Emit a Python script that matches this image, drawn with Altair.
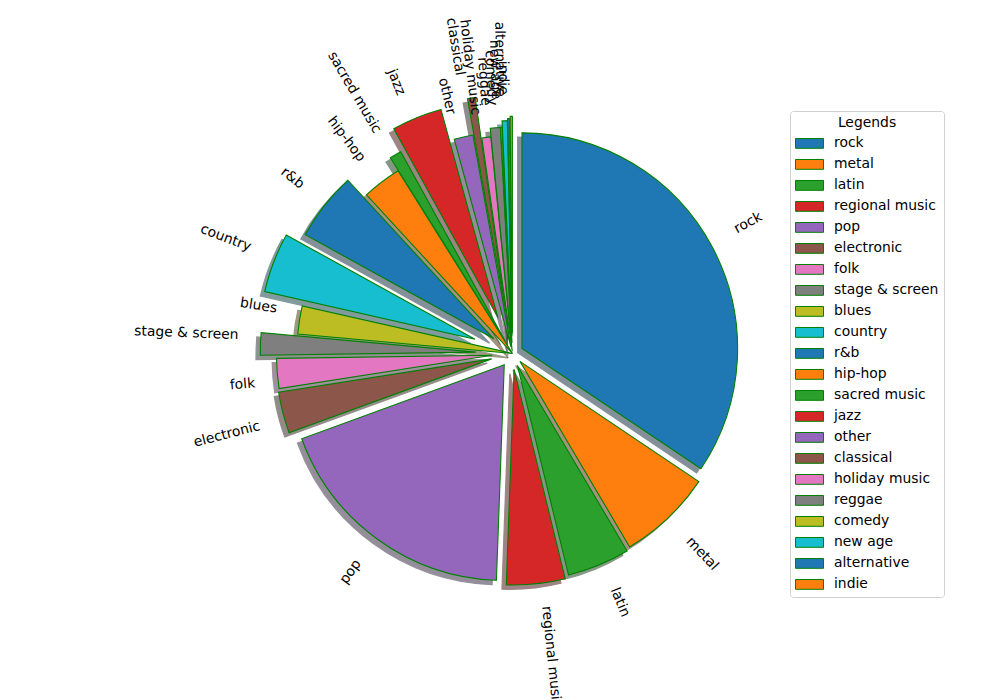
import math
import altair as alt
import pandas as pd

# ---- data ----
genres = ["rock", "metal", "latin", "regional music", "pop", "electronic", "folk",
          "stage & screen", "blues", "country", "r&b", "hip-hop", "sacred music",
          "jazz", "other", "classical", "holiday music", "reggae", "comedy",
          "new age", "alternative", "indie"]
shares = [34.5, 7.1, 4.7, 4.4, 18.9, 3.1, 2.25, 1.67, 2.11, 4.5, 5.14, 2.94, 0.89,
          3.78, 1.42, 0.58, 0.67, 0.75, 0.11, 0.39, 0.17, 0.17]

# ---- style ----
explode = [0.05, 0.05, 0.06, 0.074, 0.065, 0.1, 0.095, 0.17, 0.0, 0.186, 0.11, 0.0,
           0.07, 0.18, 0.03, 0.2, 0.01, 0.05, 0.05, 0.08, 0.09, 0.1]
tab10 = ["#1f77b4", "#ff7f0e", "#2ca02c", "#d62728", "#9467bd",
         "#8c564b", "#e377c2", "#7f7f7f", "#bcbd22", "#17becf"]
colors = [tab10[i % 10] for i in range(len(genres))]


def darken(h, f=0.3):
    h = h.lstrip("#")
    r, g, b = (int(h[i:i + 2], 16) for i in (0, 2, 4))
    return "#%02x%02x%02x" % (int(r * f), int(g * f), int(b * f))


shadow_colors = [darken(c) for c in colors]
shadow_keys = ["s_" + g for g in genres]

CX, CY, R = 512.5, 353.5, 215.6
SH = 0.02 * R        # shadow offset
H2 = 8.0             # half text-box height
FONT = "DejaVu Sans"
FS = 13.9

df = pd.DataFrame({"genre": genres, "share": shares, "explode": explode,
                   "idx": list(range(len(genres)))})

base = alt.Chart(df).transform_window(
    cum="sum(share)", sort=[alt.SortField("idx")], frame=[None, 0]
).transform_joinaggregate(
    total="sum(share)"
).transform_calculate(
    t1="2*PI*datum.cum/datum.total",
    t0="2*PI*(datum.cum-datum.share)/datum.total",
    skey="'s_' + datum.genre",
).transform_calculate(
    tm="(datum.t0+datum.t1)/2"
).transform_calculate(
    ex=f"{CX}+datum.explode*{R}*sin(datum.tm)",
    ey=f"{CY}-datum.explode*{R}*cos(datum.tm)",
    lx=f"{CX}+(datum.explode+1.1)*{R}*sin(datum.tm)+(sin(datum.tm)>=0?1:-1)*{H2}*abs(cos(datum.tm))",
    ly=f"{CY}-(datum.explode+1.1)*{R}*cos(datum.tm)-(cos(datum.tm)>=0?1:-1)*{H2}*abs(sin(datum.tm))",
    deg="datum.tm*180/PI",
).transform_calculate(
    sx=f"datum.ex-{SH}",
    sy=f"datum.ey+{SH}",
    angR="(datum.deg-90+360)%360",
    angL="(datum.deg-270+720)%360",
)

shadow = base.mark_arc(radius=R, opacity=0.5, strokeWidth=1.2).encode(
    x=alt.X("sx:Q", scale=None),
    y=alt.Y("sy:Q", scale=None),
    theta=alt.Theta("t0:Q", scale=None),
    theta2="t1:Q",
    fill=alt.Fill("skey:N", scale=alt.Scale(domain=shadow_keys, range=shadow_colors), legend=None),
    stroke=alt.Stroke("skey:N", scale=alt.Scale(domain=shadow_keys, range=shadow_colors), legend=None),
)

legend = alt.Legend(
    title="Legends", orient="none", legendX=790, legendY=111,
    fillColor="white", strokeColor="#d0d0d0", cornerRadius=3, padding=5,
    titleAnchor="middle", titleFont=FONT, titleFontSize=FS, titleFontWeight="normal",
    titleColor="black", titlePadding=6,
    labelFont=FONT, labelFontSize=FS, labelColor="black", labelLimit=300,
    symbolType="M-2,-0.7H2V0.7H-2Z", symbolSize=196, symbolOffset=7,
    symbolStrokeColor="green", symbolStrokeWidth=1, symbolOpacity=1,
    labelOffset=17, rowPadding=6,
)

wedges = base.mark_arc(radius=R, stroke="green", strokeWidth=1.1).encode(
    x=alt.X("ex:Q", scale=None),
    y=alt.Y("ey:Q", scale=None),
    theta=alt.Theta("t0:Q", scale=None),
    theta2="t1:Q",
    color=alt.Color("genre:N", scale=alt.Scale(domain=genres, range=colors), legend=legend),
)

text_r = base.transform_filter("sin(datum.tm) >= 0").mark_text(
    align="left", baseline="middle", font=FONT, fontSize=FS, color="black"
).encode(
    x=alt.X("lx:Q", scale=None), y=alt.Y("ly:Q", scale=None),
    text="genre:N", angle=alt.Angle("angR:Q", scale=None),
)
text_l = base.transform_filter("sin(datum.tm) < 0").mark_text(
    align="right", baseline="middle", font=FONT, fontSize=FS, color="black"
).encode(
    x=alt.X("lx:Q", scale=None), y=alt.Y("ly:Q", scale=None),
    text="genre:N", angle=alt.Angle("angL:Q", scale=None),
)

chart = alt.layer(shadow, wedges, text_r, text_l).resolve_scale(
    color="independent", fill="independent", stroke="independent"
).resolve_legend(
    color="independent", fill="independent", stroke="independent"
).properties(
    width=1000, height=700, autosize=alt.AutoSizeParams(type="none"), padding=0,
).configure_view(stroke=None)

chart.save("out.html", embed_options={"renderer": "svg", "actions": False})
